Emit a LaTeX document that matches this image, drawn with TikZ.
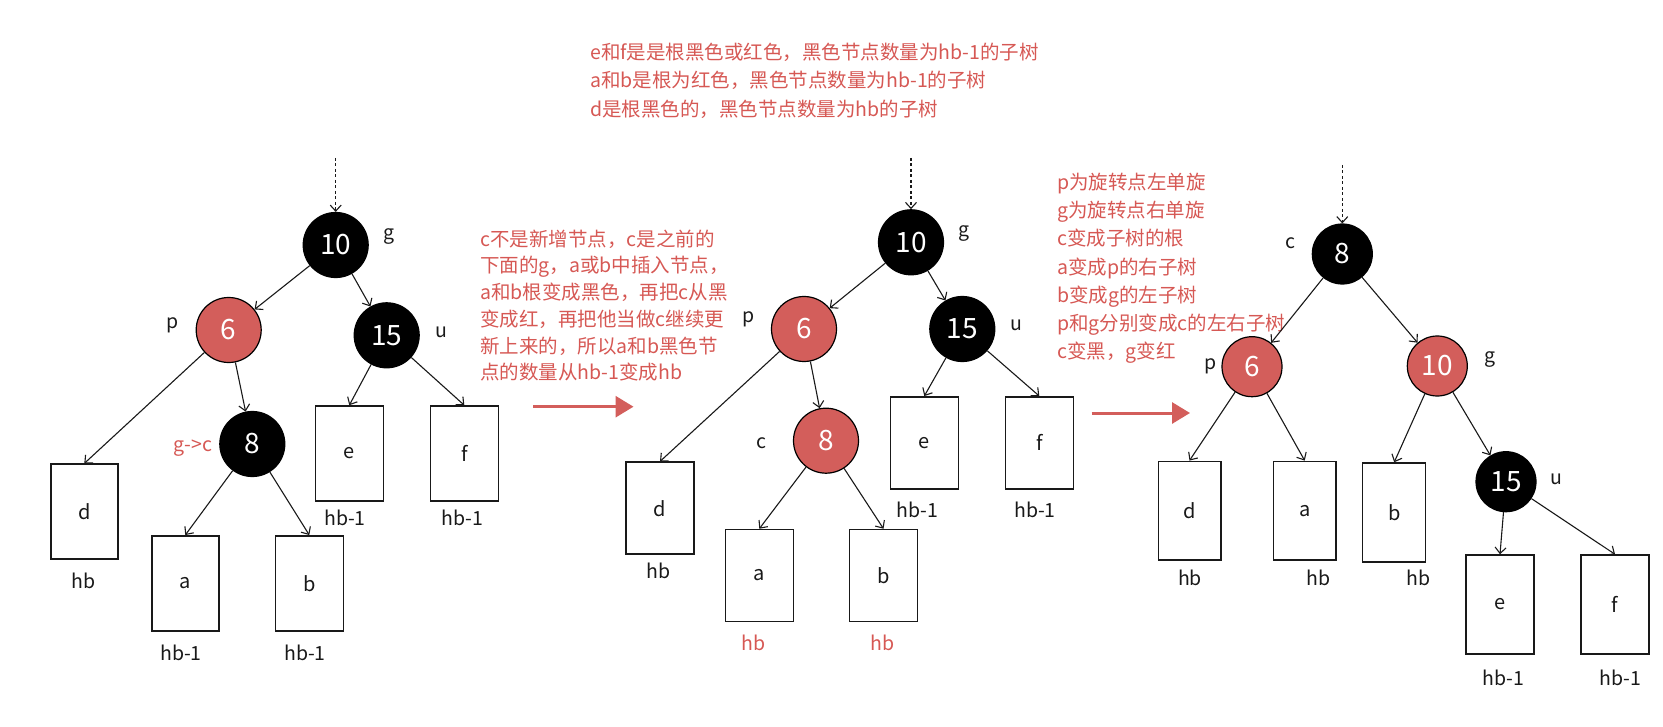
\documentclass[tikz,border=0pt]{standalone}
\usepackage{fontspec}
\setmainfont{Noto Sans CJK SC}
\usetikzlibrary{arrows.meta}
\definecolor{rbfill}{RGB}{211,94,91}
\definecolor{rbtext}{RGB}{214,88,84}
\definecolor{ink}{RGB}{25,25,25}
\tikzset{
  blk/.style={circle, fill=black, draw=black, line width=1.2pt, minimum size=65pt, inner sep=0pt, text=white, font=\fontsize{28}{30}\selectfont},
  redn/.style={blk, fill=rbfill},
  smallc/.style={minimum size=60pt},
  sub/.style={draw=ink, line width=1.5pt, fill=white, inner sep=0pt, text=ink, font=\fontsize{20}{22}\selectfont},
  lbl/.style={inner sep=0pt, text=ink, font=\fontsize{19.5}{22}\selectfont},
  rlbl/.style={lbl, text=rbtext},
  edge/.style={draw=ink, line width=1.1pt, -{Straight Barb[length=6pt,width=11pt]}},
  topin/.style={edge, dash pattern=on 3pt off 2.5pt},
  note/.style={inner sep=0pt, align=left, anchor=north west, text=rbtext},
  bigarrow/.style={draw=rbfill, line width=3pt, -{Triangle[length=18pt,width=21pt]}},
}
\begin{document}
\begin{tikzpicture}[x=1pt,y=-1pt]
\useasboundingbox (0,0) rectangle (1663,727);

% ---------- notes ----------
\node[note, font=\fontsize{19.5}{28.3}\selectfont] (top) at (590,43)
  {e和f是是根黑色或红色，黑色节点数量为hb-1的子树\\a和b是根为红色，黑色节点数量为hb-1的子树\\d是根黑色的，黑色节点数量为hb的子树};
\node[note, font=\fontsize{19.5}{26.7}\selectfont] (mid) at (480,229.6)
  {c不是新增节点，c是之前的\\下面的g，a或b中插入节点，\\a和b根变成黑色，再把c从黑\\变成红，再把他当做c继续更\\新上来的，所以a和b黑色节\\点的数量从hb-1变成hb};
\node[note, font=\fontsize{19.5}{28.2}\selectfont] (rgt) at (1057,173)
  {p为旋转点左单旋\\g为旋转点右单旋\\c变成子树的根\\a变成p的右子树\\b变成g的左子树\\p和g分别变成c的左右子树\\c变黑，g变红};

% ---------- big arrows ----------
\coordinate (a1s) at (533,406.7);
\coordinate (a1e) at (633.5,406.7);
\coordinate (a2s) at (1091.7,413);
\coordinate (a2e) at (1190,413);
\draw[bigarrow] (a1s) -- (a1e);
\draw[bigarrow] (a2s) -- (a2e);

% ---------- left tree ----------
\node[blk]  (L10) at (335.7,245) {10};
\node[redn] (L6)  at (228.7,330) {6};
\node[blk]  (L15) at (386.7,335.3) {15};
\node[blk]  (L8)  at (252.3,444) {8};
\node[sub, minimum width=67pt, minimum height=95pt] (Ld) at (84.3,511.7) {d};
\node[sub, minimum width=67pt, minimum height=95pt] (La) at (185.3,583.3) {a};
\node[sub, minimum width=68pt, minimum height=95pt] (Lb) at (309.3,583.3) {b};
\node[sub, minimum width=68pt, minimum height=95pt] (Le) at (349.3,453.5) {e};
\node[sub, minimum width=68pt, minimum height=95pt] (Lf) at (464.3,453.5) {f};
\node[lbl] (Lg) at (389,237) {g};
\node[lbl] (Lp) at (172.7,325) {p};
\node[lbl] (Lu) at (441.7,332.7) {u};
\node[rlbl] (Lgc) at (192.7,448.3) {g->c};
\node[lbl] (Ldh) at (83.3,580.7) {hb};
\node[lbl] (Lah) at (181,653.3) {hb-1};
\node[lbl] (Lbh) at (305,653.3) {hb-1};
\node[lbl] (Leh) at (345,518.3) {hb-1};
\node[lbl] (Lfh) at (462.7,518.3) {hb-1};
\coordinate (Ltop) at (335.7,158);
\draw[topin] (Ltop) -- (L10);
\draw[edge] (L10) -- (L6);
\draw[edge] (L10) -- (L15);
\draw[edge] (L6) -- (Ld.north);
\draw[edge] (L6) -- (L8);
\draw[edge] (L8) -- (La.north);
\draw[edge] (L8) -- (Lb.north);
\draw[edge] (L15) -- (Le.north);
\draw[edge] (L15) -- (Lf.north);

% ---------- middle tree ----------
\node[blk]  (M10) at (911,242.3) {10};
\node[redn] (M6)  at (804,329) {6};
\node[blk]  (M15) at (962.3,329) {15};
\node[redn] (M8)  at (826,440.7) {8};
\node[sub, minimum width=68pt, minimum height=92pt] (Md) at (660,508.2) {d};
\node[sub, minimum width=68pt, minimum height=92pt] (Ma) at (759.3,575.5) {a};
\node[sub, minimum width=68pt, minimum height=92pt] (Mb) at (883.5,575.5) {b};
\node[sub, minimum width=68pt, minimum height=92pt] (Me) at (924.3,442.8) {e};
\node[sub, minimum width=68pt, minimum height=92pt] (Mf) at (1039.3,442.8) {f};
\node[lbl] (Mg) at (964.3,233.3) {g};
\node[lbl] (Mp) at (748.3,319) {p};
\node[lbl] (Mu) at (1016.7,325.7) {u};
\node[lbl] (Mc) at (761.7,443.3) {c};
\node[lbl] (Mdh) at (658.7,570.7) {hb};
\node[rlbl] (Mah) at (753.3,643.3) {hb};
\node[rlbl] (Mbh) at (882.7,643.3) {hb};
\node[lbl] (Meh) at (917.7,510) {hb-1};
\node[lbl] (Mfh) at (1035,510) {hb-1};
\coordinate (Mtop) at (911,158);
\draw[topin] (Mtop) -- (M10);
\draw[edge] (M10) -- (M6);
\draw[edge] (M10) -- (M15);
\draw[edge] (M6) -- (Md.north);
\draw[edge] (M6) -- (M8);
\draw[edge] (M8) -- (Ma.north);
\draw[edge] (M8) -- (Mb.north);
\draw[edge] (M15) -- (Me.north);
\draw[edge] (M15) -- (Mf.north);

% ---------- right tree ----------
\node[blk, smallc]  (R8)  at (1342.3,254) {8};
\node[redn, smallc] (R6)  at (1252,366.7) {6};
\node[redn, smallc] (R10) at (1437.3,366) {10};
\node[blk, smallc]  (R15) at (1506,481.7) {15};
\node[sub, minimum width=62.5pt, minimum height=98.7pt] (Rd) at (1189.5,510.7) {d};
\node[sub, minimum width=62.7pt, minimum height=98.7pt] (Ra) at (1304.7,510.7) {a};
\node[sub, minimum width=63pt, minimum height=99pt] (Rb) at (1394.2,512.5) {b};
\node[sub, minimum width=68pt, minimum height=99pt] (Re) at (1500,604.5) {e};
\node[sub, minimum width=68pt, minimum height=99pt] (Rf) at (1615,604.5) {f};
\node[lbl] (Rc) at (1290,242.7) {c};
\node[lbl] (Rp) at (1211,366.7) {p};
\node[lbl] (Rg) at (1490,360) {g};
\node[lbl] (Ru) at (1556.7,479.3) {u};
\node[lbl] (Rdh) at (1190,578.3) {hb};
\node[lbl] (Rah) at (1318.3,578.3) {hb};
\node[lbl] (Rbh) at (1418.3,578.3) {hb};
\node[lbl] (Reh) at (1503.3,678.3) {hb-1};
\node[lbl] (Rfh) at (1620.7,678.3) {hb-1};
\coordinate (Rtop) at (1342.3,165);
\draw[topin] (Rtop) -- (R8);
\draw[edge] (R8) -- (R6);
\draw[edge] (R8) -- (R10);
\draw[edge] (R6) -- (Rd.north);
\draw[edge] (R6) -- (Ra.north);
\draw[edge] (R10) -- (Rb.north);
\draw[edge] (R10) -- (R15);
\draw[edge] (R15) -- (Re.north);
\draw[edge] (R15) -- (Rf.north);
\end{tikzpicture}
\end{document}
